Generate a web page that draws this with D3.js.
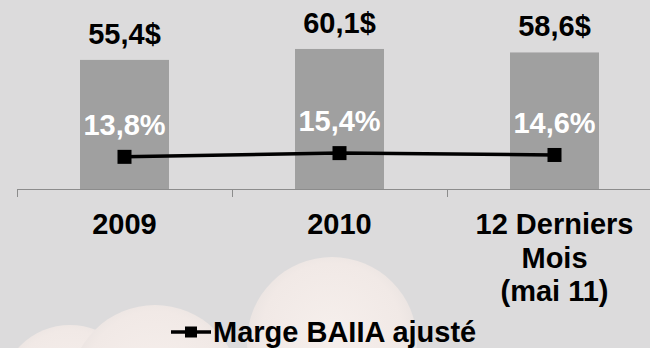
<!DOCTYPE html>
<html>
<head>
<meta charset="utf-8">
<script src="https://cdn.jsdelivr.net/npm/d3@7"></script>
<style>
  html, body { margin: 0; padding: 0; background: #dcdbdc; }
  svg { display: block; }
  text { font-family: "Liberation Sans", Arial, sans-serif; font-weight: bold; }
</style>
</head>
<body>
<svg id="chart" width="650" height="348"></svg>
<script>
const categories = ["2009", "2010", "12 Derniers\nMois\n(mai 11)"];
const revenue = [55.4, 60.1, 58.6];
const revenueLabels = ["55,4$", "60,1$", "58,6$"];
const margin = [13.8, 15.4, 14.6];
const marginLabels = ["13,8%", "15,4%", "14,6%"];
const seriesName = "Marge BAIIA ajusté";

const width = 650, height = 348;
const svg = d3.select("#chart");

// soft background bubbles
const defs = svg.append("defs");
const grad = defs.append("radialGradient").attr("id", "bubble")
  .attr("cx", "50%").attr("cy", "45%").attr("r", "55%");
grad.append("stop").attr("offset", "0%").attr("stop-color", "#f6efec");
grad.append("stop").attr("offset", "75%").attr("stop-color", "#f1e9e6");
grad.append("stop").attr("offset", "100%").attr("stop-color", "#e7e1df");

svg.append("rect").attr("width", width).attr("height", height).attr("fill", "#dcdbdc");
const bubbles = [
  { cx: 70, cy: 395, r: 70 },
  { cx: 155, cy: 390, r: 85 },
  { cx: 332, cy: 342, r: 85 }
];
svg.append("g").selectAll("circle").data(bubbles).join("circle")
  .attr("cx", d => d.cx).attr("cy", d => d.cy).attr("r", d => d.r)
  .attr("fill", "url(#bubble)");

const axisY = 189;
const x = d3.scaleBand()
  .domain(categories)
  .range([17, 662])
  .paddingInner(0.586)
  .paddingOuter(0.293);
const y = d3.scaleLinear().domain([0, 80]).range([axisY, 2.6]);
const y2 = d3.scaleLinear().domain([0, 80]).range([axisY, 2.6]);

// bars
svg.append("g").selectAll("rect").data(revenue).join("rect")
  .attr("x", (d, i) => x(categories[i]))
  .attr("y", d => y(d))
  .attr("width", x.bandwidth())
  .attr("height", d => axisY - y(d))
  .attr("fill", "#a0a0a0");

// x axis
const step = x.step();
const axis = svg.append("g");
axis.append("line")
  .attr("x1", 17).attr("x2", width)
  .attr("y1", axisY + 0.5).attr("y2", axisY + 0.5)
  .attr("stroke", "#8c8c8c").attr("stroke-width", 1);
axis.selectAll("line.tick").data(d3.range(categories.length)).join("line")
  .attr("class", "tick")
  .attr("x1", i => 17 + i * step + 0.5).attr("x2", i => 17 + i * step + 0.5)
  .attr("y1", axisY).attr("y2", axisY + 8)
  .attr("stroke", "#8c8c8c").attr("stroke-width", 1);

const cx = c => x(c) + x.bandwidth() / 2;

const catText = svg.append("g").selectAll("text").data(categories).join("text")
  .attr("x", d => cx(d))
  .attr("y", 234)
  .attr("text-anchor", "middle")
  .attr("font-size", 29)
  .attr("fill", "#000");
catText.each(function (d) {
  const t = d3.select(this);
  d.split("\n").forEach((line, j) => {
    t.append("tspan").attr("x", cx(d)).attr("dy", j === 0 ? 0 : 33.5).text(line);
  });
});

// bar value labels
svg.append("g").selectAll("text").data(revenue).join("text")
  .attr("x", (d, i) => cx(categories[i]))
  .attr("y", d => y(d) - 16)
  .attr("text-anchor", "middle")
  .attr("font-size", 29)
  .attr("fill", "#000")
  .text((d, i) => revenueLabels[i]);

// margin line
const line = d3.line()
  .x((d, i) => cx(categories[i]))
  .y(d => y2(d));
svg.append("path").datum(margin)
  .attr("d", line)
  .attr("fill", "none")
  .attr("stroke", "#000")
  .attr("stroke-width", 3.5);
svg.append("g").selectAll("rect").data(margin).join("rect")
  .attr("x", (d, i) => cx(categories[i]) - 7)
  .attr("y", d => y2(d) - 7)
  .attr("width", 14).attr("height", 14)
  .attr("fill", "#000");

svg.append("g").selectAll("text").data(margin).join("text")
  .attr("x", (d, i) => cx(categories[i]))
  .attr("y", d => y2(d) - 22)
  .attr("text-anchor", "middle")
  .attr("font-size", 29)
  .attr("fill", "#fff")
  .text((d, i) => marginLabels[i]);

// legend
const lg = svg.append("g").attr("transform", "translate(171,332)");
lg.append("line").attr("x1", 0).attr("x2", 40).attr("y1", 0).attr("y2", 0)
  .attr("stroke", "#000").attr("stroke-width", 3.5);
lg.append("rect").attr("x", 14).attr("y", -5.5).attr("width", 12).attr("height", 11).attr("fill", "#000");
lg.append("text").attr("x", 42).attr("y", 9.5)
  .attr("font-size", 29).attr("fill", "#000")
  .text(seriesName);
</script>
</body>
</html>
